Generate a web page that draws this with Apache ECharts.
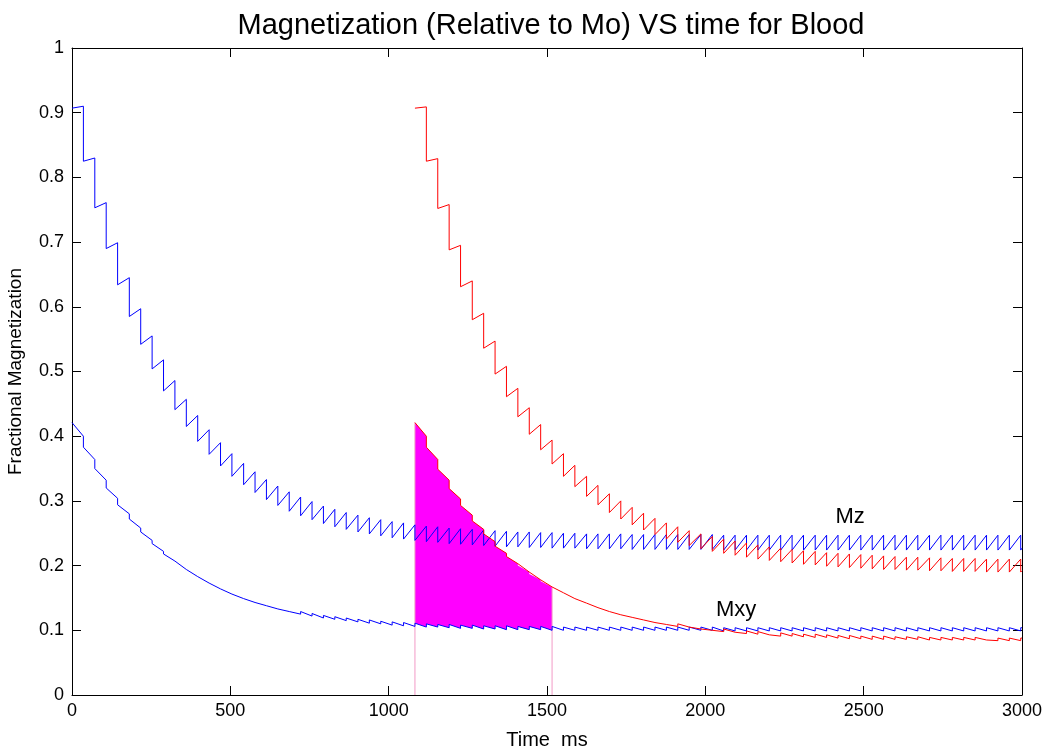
<!DOCTYPE html>
<html><head><meta charset="utf-8">
<script src="https://cdn.jsdelivr.net/npm/echarts@6/dist/echarts.min.js"></script>
<style>html,body{margin:0;padding:0;background:#fff}#c{width:1052px;height:752px}</style>
</head><body><div id="c"></div>
<script>
// RF pulse times (ms), read from the tooth positions
const pulseTimes = [0, 36, 72, 108, 144, 181, 217, 253, 289, 325,
  361, 397, 433, 469, 505, 542, 578, 614, 650, 686,
  722, 758, 794, 830, 866, 903, 939, 975, 1011, 1047,
  1083, 1119, 1155, 1191, 1227, 1264, 1300, 1336, 1372, 1408,
  1444, 1480, 1516, 1552, 1588, 1625, 1661, 1697, 1733, 1769,
  1805, 1841, 1877, 1913, 1949, 1986, 2022, 2058, 2094, 2130,
  2166, 2202, 2238, 2274, 2310, 2347, 2383, 2419, 2455, 2491,
  2527, 2563, 2599, 2635, 2671, 2708, 2744, 2780, 2816, 2852,
  2888, 2924, 2960, 2996];
const endTime = 3000;

// Blue Mz: value just before each pulse (peak) and just after (dip)
const blueMzPeak = [0.907, 0.910, 0.830, 0.761, 0.699, 0.645, 0.597, 0.555, 0.518, 0.486,
  0.457, 0.432, 0.410, 0.390, 0.373, 0.358, 0.345, 0.333, 0.323, 0.314,
  0.306, 0.299, 0.292, 0.287, 0.282, 0.278, 0.274, 0.271, 0.268, 0.266,
  0.263, 0.261, 0.260, 0.258, 0.257, 0.256, 0.255, 0.254, 0.253, 0.252,
  0.252, 0.251, 0.251, 0.250, 0.250, 0.249, 0.249, 0.249, 0.249, 0.248,
  0.248, 0.248, 0.248, 0.248, 0.248, 0.248, 0.248, 0.247, 0.247, 0.247,
  0.247, 0.247, 0.247, 0.247, 0.247, 0.247, 0.247, 0.247, 0.247, 0.247,
  0.247, 0.247, 0.247, 0.247, 0.247, 0.247, 0.247, 0.247, 0.247, 0.247,
  0.247, 0.247, 0.247, 0.247];
const blueMzDip = [0.907, 0.825, 0.753, 0.690, 0.634, 0.585, 0.542, 0.504, 0.470, 0.441,
  0.415, 0.392, 0.372, 0.354, 0.338, 0.325, 0.313, 0.302, 0.293, 0.284,
  0.277, 0.271, 0.265, 0.260, 0.256, 0.252, 0.249, 0.246, 0.243, 0.241,
  0.239, 0.237, 0.236, 0.234, 0.233, 0.232, 0.231, 0.230, 0.229, 0.229,
  0.228, 0.228, 0.227, 0.227, 0.227, 0.226, 0.226, 0.226, 0.226, 0.225,
  0.225, 0.225, 0.225, 0.225, 0.225, 0.225, 0.225, 0.224, 0.224, 0.224,
  0.224, 0.224, 0.224, 0.224, 0.224, 0.224, 0.224, 0.224, 0.224, 0.224,
  0.224, 0.224, 0.224, 0.224, 0.224, 0.224, 0.224, 0.224, 0.224, 0.224,
  0.224, 0.224, 0.224, 0.224];
const blueMzEnd = 0.227;

// Blue Mxy: value just before each pulse (low) and just after (high)
const blueMxyHigh = [0.421, 0.383, 0.350, 0.320, 0.294, 0.272, 0.252, 0.234, 0.218, 0.205,
  0.193, 0.182, 0.173, 0.164, 0.157, 0.151, 0.145, 0.140, 0.136, 0.132,
  0.129, 0.126, 0.123, 0.121, 0.119, 0.117, 0.116, 0.114, 0.113, 0.112,
  0.111, 0.110, 0.109, 0.109, 0.108, 0.108, 0.107, 0.107, 0.107, 0.106,
  0.106, 0.106, 0.106, 0.105, 0.105, 0.105, 0.105, 0.105, 0.105, 0.105,
  0.105, 0.105, 0.105, 0.105, 0.105, 0.105, 0.105, 0.104, 0.104, 0.104,
  0.104, 0.104, 0.104, 0.104, 0.104, 0.104, 0.104, 0.104, 0.104, 0.104,
  0.104, 0.104, 0.104, 0.104, 0.104, 0.104, 0.104, 0.104, 0.104, 0.104,
  0.104, 0.104, 0.104, 0.104];
const blueMxyLow = [0.421, 0.400, 0.364, 0.332, 0.304, 0.280, 0.258, 0.239, 0.222, 0.207,
  0.194, 0.183, 0.173, 0.164, 0.156, 0.149, 0.143, 0.138, 0.133, 0.129,
  0.125, 0.122, 0.119, 0.117, 0.115, 0.113, 0.111, 0.110, 0.108, 0.107,
  0.106, 0.105, 0.105, 0.104, 0.103, 0.103, 0.102, 0.102, 0.101, 0.101,
  0.101, 0.101, 0.100, 0.100, 0.100, 0.100, 0.100, 0.100, 0.100, 0.100,
  0.100, 0.100, 0.100, 0.100, 0.100, 0.100, 0.100, 0.099, 0.099, 0.099,
  0.099, 0.099, 0.099, 0.099, 0.099, 0.099, 0.099, 0.099, 0.099, 0.099,
  0.099, 0.099, 0.099, 0.099, 0.099, 0.099, 0.099, 0.099, 0.099, 0.099,
  0.099, 0.099, 0.099, 0.099];
const blueMxyEnd = 0.104;

// Red curves start at pulse index 30 (t = 1083 ms)
const redFirstPulse = 30;
const redMzPeak = [0.907, 0.909, 0.829, 0.758, 0.695, 0.640, 0.590, 0.547, 0.508, 0.474,
  0.444, 0.418, 0.394, 0.373, 0.355, 0.338, 0.324, 0.311, 0.300, 0.290,
  0.281, 0.273, 0.266, 0.260, 0.254, 0.249, 0.245, 0.241, 0.238, 0.235,
  0.232, 0.229, 0.227, 0.225, 0.223, 0.222, 0.220, 0.219, 0.218, 0.217,
  0.216, 0.215, 0.214, 0.213, 0.213, 0.212, 0.212, 0.211, 0.211, 0.211,
  0.210, 0.210, 0.210, 0.210];
const redMzDip = [0.907, 0.825, 0.752, 0.688, 0.631, 0.580, 0.536, 0.496, 0.461, 0.430,
  0.403, 0.379, 0.357, 0.338, 0.322, 0.307, 0.294, 0.282, 0.272, 0.263,
  0.255, 0.248, 0.241, 0.236, 0.231, 0.226, 0.222, 0.219, 0.216, 0.213,
  0.210, 0.208, 0.206, 0.204, 0.202, 0.201, 0.199, 0.198, 0.197, 0.196,
  0.195, 0.194, 0.194, 0.193, 0.193, 0.192, 0.192, 0.191, 0.191, 0.191,
  0.190, 0.190, 0.190, 0.190];
const redMzEnd = 0.192;
const redMxyHigh = [0.421, 0.383, 0.349, 0.319, 0.293, 0.269, 0.249, 0.230, 0.214, 0.200,
  0.187, 0.176, 0.166, 0.157, 0.149, 0.142, 0.136, 0.131, 0.126, 0.122,
  0.118, 0.115, 0.112, 0.110, 0.107, 0.105, 0.103, 0.102, 0.100, 0.099,
  0.098, 0.096, 0.096, 0.095, 0.094, 0.094, 0.093, 0.092, 0.092, 0.091,
  0.091, 0.091, 0.090, 0.090, 0.090, 0.089, 0.089, 0.089, 0.089, 0.089,
  0.088, 0.088, 0.088, 0.088];
const redMxyLow = [0.421, 0.400, 0.364, 0.332, 0.303, 0.278, 0.256, 0.237, 0.219, 0.203,
  0.190, 0.178, 0.167, 0.158, 0.149, 0.142, 0.135, 0.129, 0.124, 0.120,
  0.116, 0.112, 0.109, 0.106, 0.105, 0.102, 0.100, 0.098, 0.097, 0.095,
  0.094, 0.093, 0.091, 0.091, 0.090, 0.089, 0.089, 0.088, 0.087, 0.087,
  0.086, 0.086, 0.086, 0.086, 0.086, 0.085, 0.085, 0.085, 0.085, 0.085,
  0.085, 0.084, 0.084, 0.084];
const redMxyEnd = 0.088;

// Shaded acquisition window: from pulse 30 to pulse 42
const windowPulses = [30, 42];

const curveLabels = [
  { text: 'Mz', t: 2457, v: 0.275 },
  { text: 'Mxy', t: 2097, v: 0.131 }
];

const xTicks = { min: 0, max: 3000, step: 500 };
const yTicks = { min: 0, max: 1, step: 0.1 };

// ---- build paths ----
function stepPath(times, before, after, endT, endVal) {
  const pts = [[times[0], after[0]]];
  for (let i = 1; i < times.length; i++) {
    pts.push([times[i], before[i]]);
    pts.push([times[i], after[i]]);
  }
  pts.push([endT, endVal]);
  return pts;
}
const redTimes = pulseTimes.slice(redFirstPulse);
const blueMzPts = stepPath(pulseTimes, blueMzPeak, blueMzDip, endTime, blueMzEnd);
const blueMxyPts = stepPath(pulseTimes, blueMxyLow, blueMxyHigh, endTime, blueMxyEnd);
const redMzPts = stepPath(redTimes, redMzPeak, redMzDip, endTime, redMzEnd);
const redMxyPts = stepPath(redTimes, redMxyLow, redMxyHigh, endTime, redMxyEnd);

const w0 = windowPulses[0], w1 = windowPulses[1];
const nW = w1 - w0;
const topEdge = [[redTimes[0], redMxyHigh[0]]];
for (let j = 1; j <= nW; j++) {
  topEdge.push([redTimes[j], redMxyLow[j]]);
  if (j < nW) topEdge.push([redTimes[j], redMxyHigh[j]]);
}
const bottomEdge = [[pulseTimes[w0], blueMxyHigh[w0]]];
for (let k = w0 + 1; k <= w1; k++) {
  bottomEdge.push([pulseTimes[k], blueMxyLow[k]]);
  if (k < w1) bottomEdge.push([pulseTimes[k], blueMxyHigh[k]]);
}
const fillPoly = topEdge.concat(bottomEdge.slice().reverse());
const leftMarker = [[pulseTimes[w0], 0], [pulseTimes[w0], redMxyHigh[0]]];
const rightMarker = [[pulseTimes[w1], 0], [pulseTimes[w1], redMxyLow[nW]]];

const FONT = "'Liberation Sans', Arial, Helvetica, sans-serif";
const axisCommon = {
  type: 'value',
  axisLine: { show: true, onZero: false, lineStyle: { color: '#000', width: 1 } },
  axisTick: { show: true, inside: true, length: 9, lineStyle: { color: '#000', width: 1 } },
  splitLine: { show: false }
};

const chart = echarts.init(document.getElementById('c'));
chart.setOption({
  animation: false,
  backgroundColor: '#fff',
  title: {
    text: 'Magnetization (Relative to Mo) VS time for Blood',
    left: 546, top: 6, textAlign: 'center',
    textStyle: { fontFamily: FONT, fontSize: 29, fontWeight: 'normal', color: '#000' }
  },
  grid: { left: 72, right: 30, top: 48, bottom: 57, outerBoundsMode: 'none', containLabel: false },
  xAxis: [
    Object.assign({}, axisCommon, {
      position: 'bottom', min: xTicks.min, max: xTicks.max, interval: xTicks.step,
      axisLabel: { color: '#000', fontFamily: FONT, fontSize: 18, margin: 7,
        formatter: function (v) { return String(v); } },
      name: 'Time  ms', nameLocation: 'middle', nameGap: 35,
      nameTextStyle: { color: '#000', fontFamily: FONT, fontSize: 20 }
    }),
    Object.assign({}, axisCommon, {
      position: 'top', min: xTicks.min, max: xTicks.max, interval: xTicks.step,
      axisLabel: { show: false }
    })
  ],
  yAxis: [
    Object.assign({}, axisCommon, {
      position: 'left', min: yTicks.min, max: yTicks.max, interval: yTicks.step,
      axisLabel: { color: '#000', fontFamily: FONT, fontSize: 18, margin: 8 },
      name: 'Fractional Magnetization', nameLocation: 'middle', nameGap: 47,
      nameTextStyle: { color: '#000', fontFamily: FONT, fontSize: 19 }
    }),
    Object.assign({}, axisCommon, {
      position: 'right', min: yTicks.min, max: yTicks.max, interval: yTicks.step,
      axisLabel: { show: false }
    })
  ],
  series: [
    {
      type: 'custom', name: 'window', z: 1, clip: true,
      data: [[pulseTimes[w0], 0]],
      renderItem: function (params, api) {
        return {
          type: 'polygon',
          shape: { points: fillPoly.map(function (p) { return api.coord(p); }) },
          style: { fill: '#ff00ff', stroke: null }
        };
      }
    },
    { type: 'line', z: 2, data: leftMarker, showSymbol: false, symbol: 'none',
      lineStyle: { color: '#f29ac6', width: 1 } },
    { type: 'line', z: 2, data: rightMarker, showSymbol: false, symbol: 'none',
      lineStyle: { color: '#f29ac6', width: 1 } },
    { type: 'line', z: 3, name: 'Mz blue', data: blueMzPts, showSymbol: false, symbol: 'none',
      lineStyle: { color: '#0000ff', width: 1 } },
    { type: 'line', z: 3, name: 'Mxy blue', data: blueMxyPts, showSymbol: false, symbol: 'none',
      lineStyle: { color: '#0000ff', width: 1 } },
    { type: 'line', z: 4, name: 'Mz red', data: redMzPts, showSymbol: false, symbol: 'none',
      lineStyle: { color: '#ff0000', width: 1 } },
    { type: 'line', z: 4, name: 'Mxy red', data: redMxyPts, showSymbol: false, symbol: 'none',
      lineStyle: { color: '#ff0000', width: 1 } },
    {
      type: 'custom', z: 5, name: 'labels',
      data: curveLabels.map(function (d) { return [d.t, d.v, d.text]; }),
      renderItem: function (params, api) {
        const p = api.coord([api.value(0), api.value(1)]);
        return {
          type: 'text', x: p[0], y: p[1],
          style: { text: curveLabels[params.dataIndex].text, fill: '#000',
            font: '22px ' + FONT, align: 'center', verticalAlign: 'middle' }
        };
      }
    }
  ]
});
</script>
</body></html>
